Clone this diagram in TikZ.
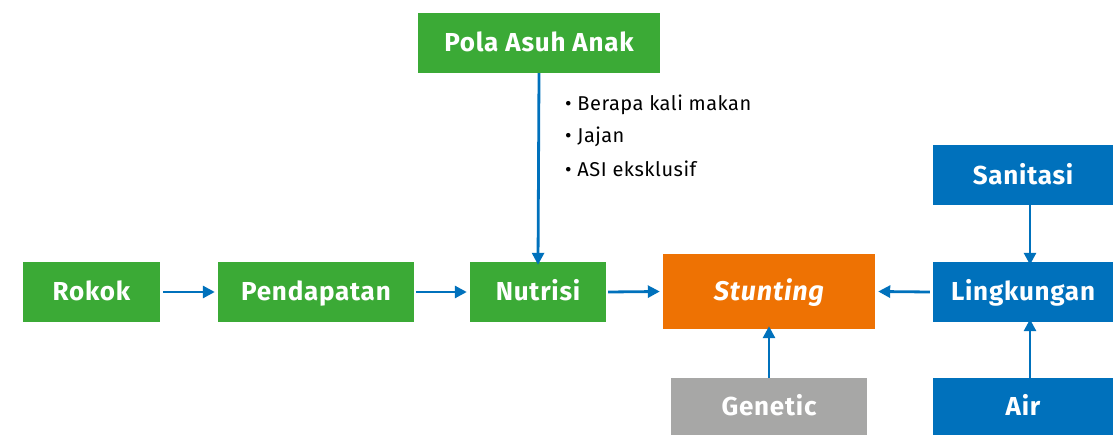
\documentclass[tikz,border=0pt]{standalone}
\usepackage{fontspec}
\setmainfont{Fira Sans}
\newfontfamily\boxfont[LetterSpace=3]{Fira Sans}
\newfontfamily\bulfont[LetterSpace=2.5]{Fira Sans}
\usetikzlibrary{arrows.meta}
\definecolor{cgreen}{HTML}{3BAA36}
\definecolor{corange}{HTML}{EE7203}
\definecolor{cblue}{HTML}{0071BC}
\definecolor{cgray}{HTML}{A7A7A6}
\begin{document}
\begin{tikzpicture}[x=1pt,y=-1pt,
  boxbase/.style={inner sep=0pt,text=white,text height=18pt,text depth=0pt,font=\boxfont\fontsize{26}{30}\selectfont\bfseries},
  boxgreen/.style={boxbase,fill=cgreen},
  boxblue/.style={boxbase,fill=cblue},
  boxorange/.style={boxbase,fill=corange,text height=19pt,font=\boxfont\fontsize{27}{31}\selectfont\bfseries\itshape},
  boxgray/.style={boxbase,fill=cgray},
  conn/.style={draw=cblue,line width=2.8pt,-{Triangle[length=12pt,width=12pt]}},
  bul/.style={anchor=west,inner sep=0pt,font=\bulfont\fontsize{20}{24}\selectfont}]
\useasboundingbox (0,0) rectangle (1113,435);
\node[boxgreen,minimum width=242pt,minimum height=60pt] (pola) at (539,43) {Pola Asuh Anak};
\node[boxgreen,minimum width=137pt,minimum height=60pt] (rokok) at (91.5,292) {Rokok};
\node[boxgreen,minimum width=196pt,minimum height=60pt] (pend) at (316,292) {Pendapatan};
\node[boxgreen,minimum width=136pt,minimum height=60pt] (nut) at (538,292) {Nutrisi};
\node[boxorange,minimum width=212pt,minimum height=75pt] (stun) at (769,291.5) {Stunting};
\node[boxgray,minimum width=196pt,minimum height=57pt] (gen) at (769,406.5) {Genetic};
\node[boxblue,minimum width=180pt,minimum height=60pt] (ling) at (1023,292) {Lingkungan};
\node[boxblue,minimum width=180pt,minimum height=60pt] (san) at (1023,175.5) {Sanitasi};
\node[boxblue,minimum width=180pt,minimum height=57pt] (air) at (1023,406.5) {Air};
\node[bul] (b1) at (565,105) {\textbullet\ Berapa kali makan};
\node[bul] (b2) at (565,137) {\textbullet\ Jajan};
\node[bul] (b3) at (565,169) {\textbullet\ ASI eksklusif};
\draw[conn] ([xshift=3pt]rokok.east) -- ([xshift=-3pt]pend.west);
\draw[conn] ([xshift=2pt]pend.east) -- ([xshift=-3pt]nut.west);
\draw[conn] ([xshift=2pt]nut.east) -- ([xshift=-3pt]stun.west);
\draw[conn] ([xshift=-3pt]ling.west) -- ([xshift=3pt]stun.east);
\draw[conn] (pola.south) -- ([yshift=-3pt]nut.north);
\draw[conn] (gen.north) -- ([yshift=3pt]stun.south);
\draw[conn] ([shift={(7pt,3pt)}]san.south) -- ([shift={(7pt,-3pt)}]ling.north);
\draw[conn] ([shift={(7pt,-2pt)}]air.north) -- ([shift={(7pt,3pt)}]ling.south);
\end{tikzpicture}
\end{document}
